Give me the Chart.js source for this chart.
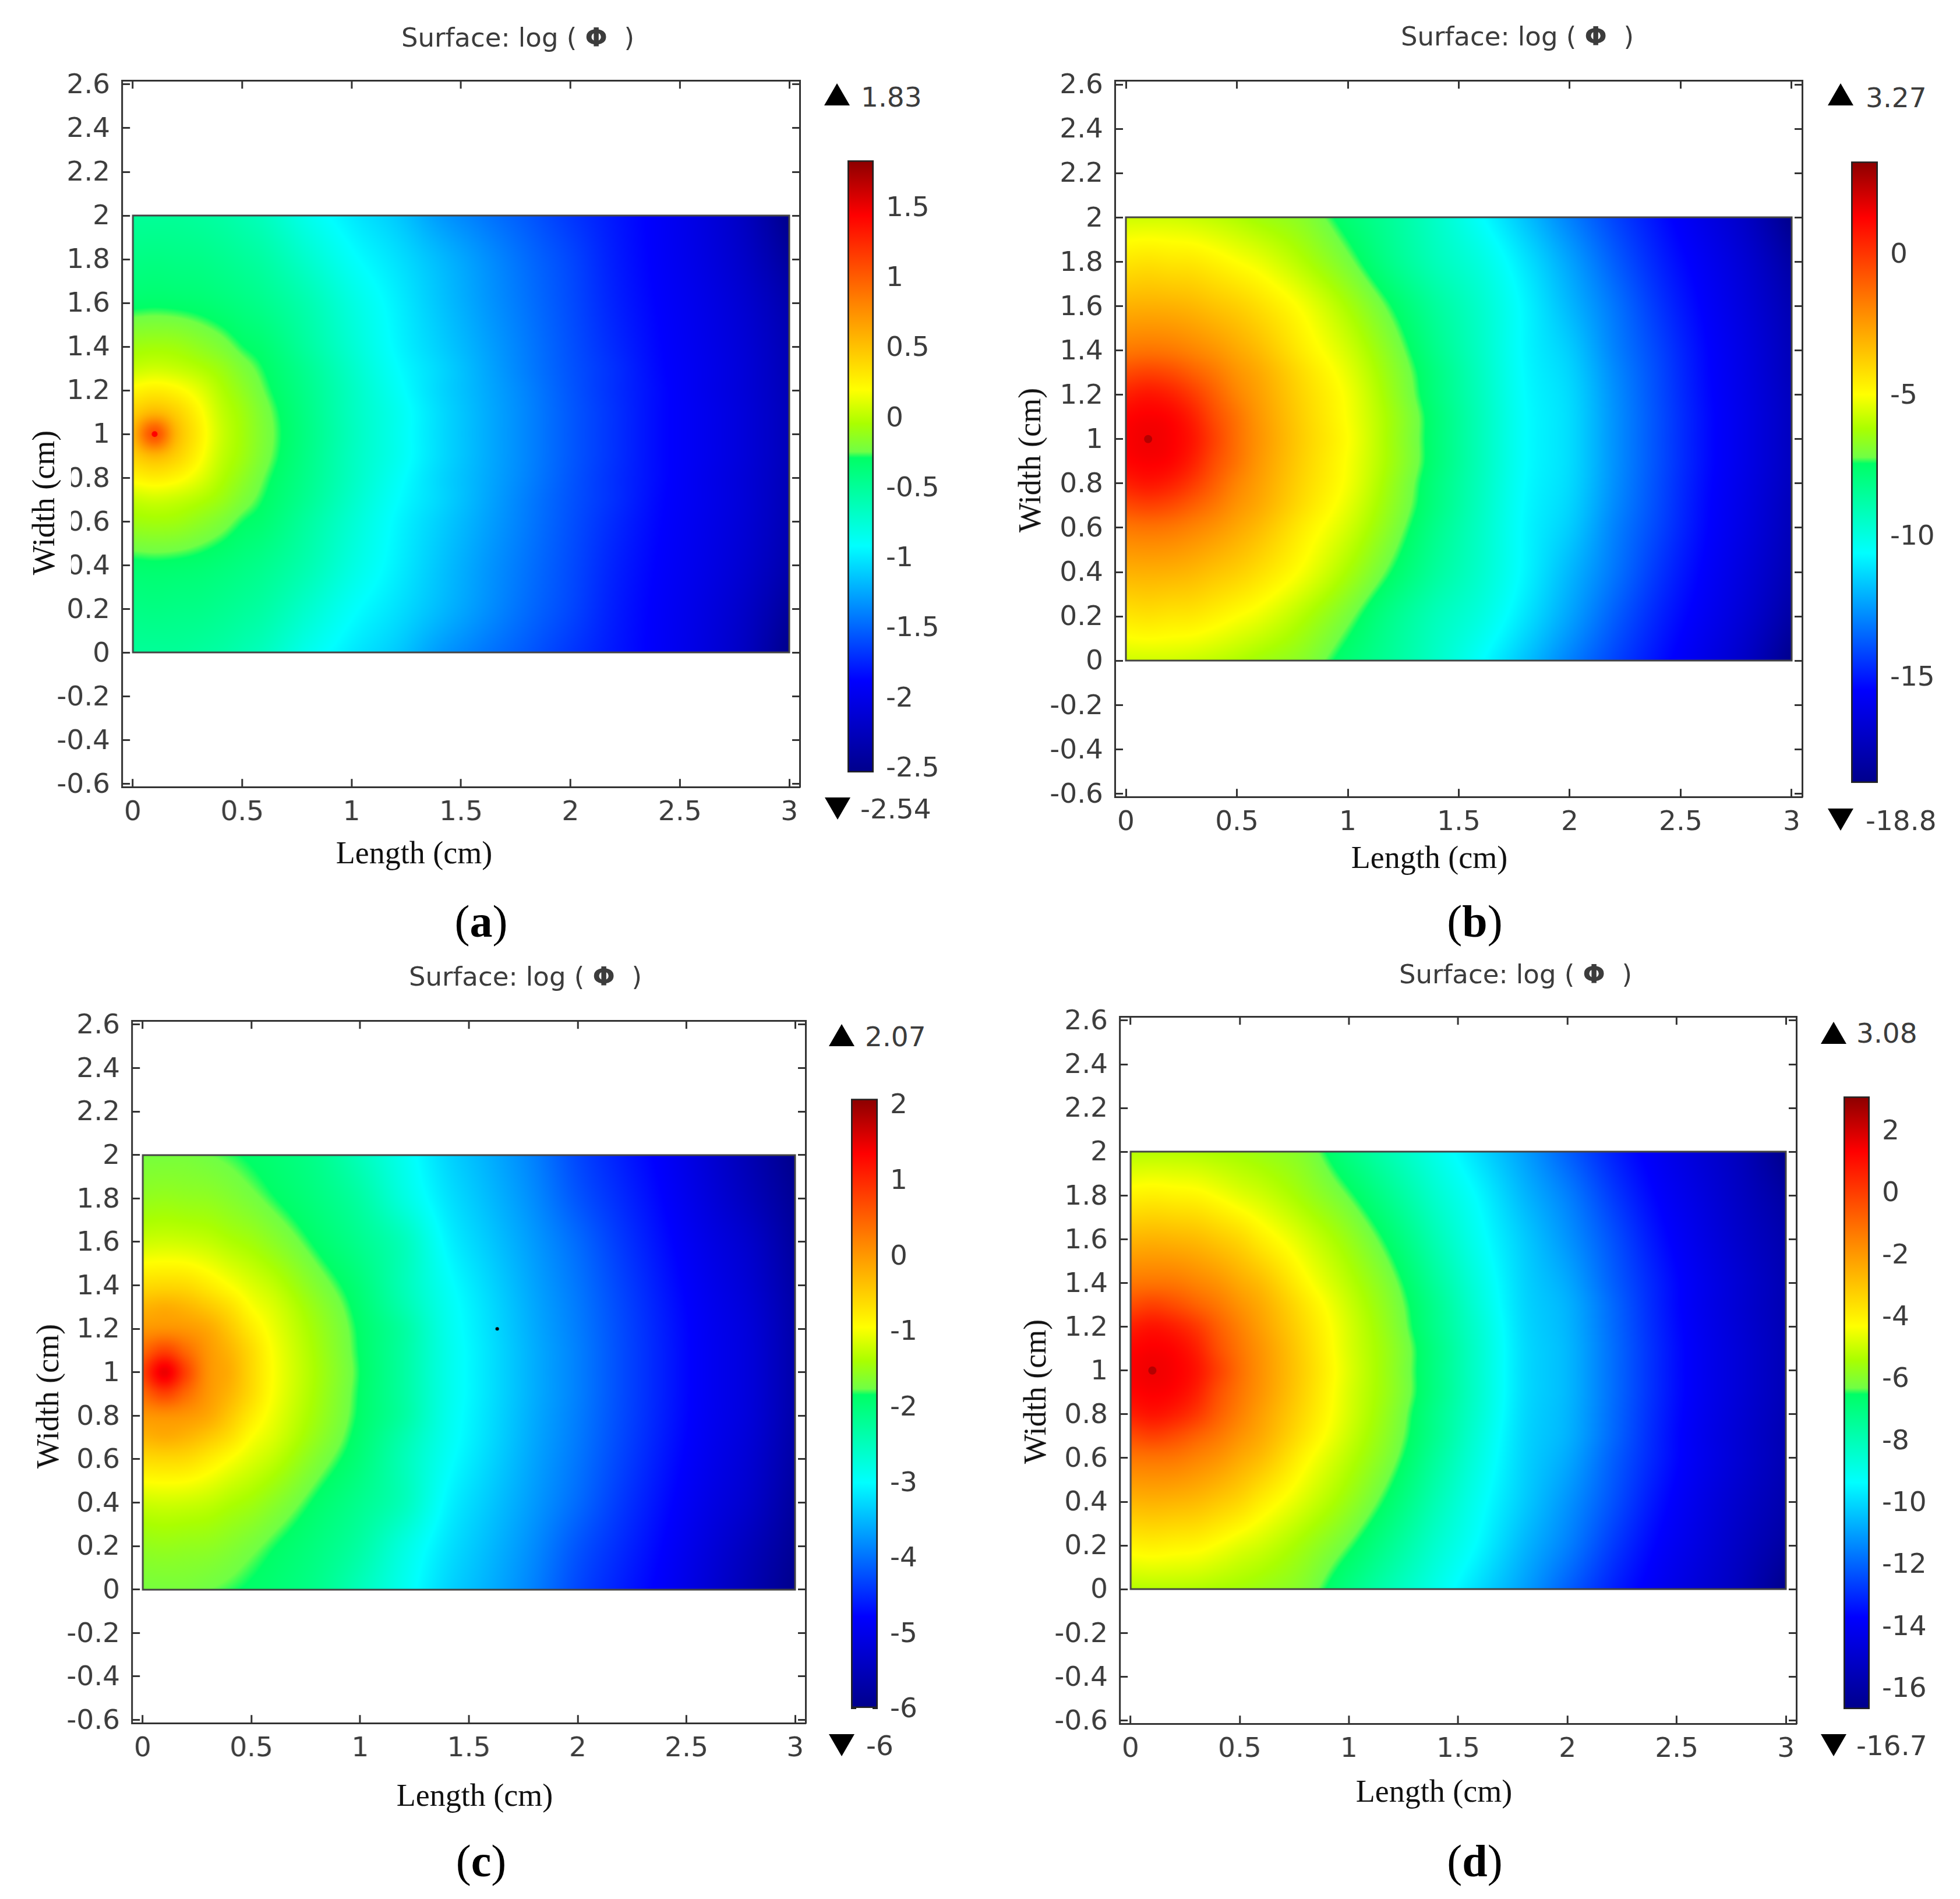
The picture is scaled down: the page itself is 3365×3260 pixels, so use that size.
<!DOCTYPE html>
<html>
<head>
<meta charset="utf-8">
<title>Surface log phi</title>
<script src="https://cdn.jsdelivr.net/npm/chart.js@4"></script>
<style>
  html, body { margin: 0; padding: 0; background: #fff; }
  #page { position: relative; width: 3365px; height: 3260px; overflow: hidden; background: #fff; }
  #page canvas { position: absolute; }
  .txt { position: absolute; white-space: pre; line-height: 1; }
  .sans { font: 45px "DejaVu Sans", sans-serif; color: #3c3c3c; }
  .range { font: 47px "DejaVu Sans", sans-serif; color: #3c3c3c; }
  .serif { font: 54px "Liberation Serif", serif; color: #111; }
  .caption { font: 78px "Liberation Serif", serif; color: #000; }
  .tri { position: absolute; width: 44px; height: 38px; background: #000; }
  .tri.up { clip-path: polygon(50% 0, 100% 100%, 0 100%); }
  .tri.down { clip-path: polygon(0 0, 100% 0, 50% 100%); }
  .mask { position: absolute; background: #fff; }
</style>
</head>
<body>
<div id="page"></div>
<script>
// grid nodes the values below were read at (cm)
var xNodes = [0, 0.1, 0.2, 0.3, 0.4, 0.5, 0.6, 0.8, 1, 1.2, 1.4, 1.6, 1.8, 2, 2.2, 2.4, 2.6, 2.8, 3];
var yNodesHalf = [0, 0.2, 0.4, 0.6, 0.7, 0.8, 0.9, 1];

// log(phi), rows y = 0 .. 1. The picture is symmetric about y = 1
var valuesA = [
  [-0.5, -0.5, -0.5, -0.52, -0.55, -0.6, -0.66, -0.85, -1, -1.12, -1.3, -1.43, -1.55, -1.68, -1.8, -1.92, -2.06, -2.24, -2.54],
  [-0.42, -0.41, -0.42, -0.43, -0.46, -0.5, -0.55, -0.72, -0.9, -1.03, -1.18, -1.33, -1.48, -1.62, -1.78, -1.91, -2.04, -2.2, -2.44],
  [-0.318, -0.31, -0.318, -0.334, -0.366, -0.406, -0.454, -0.6, -0.8, -0.97, -1.14, -1.3, -1.45, -1.6, -1.76, -1.89, -2.01, -2.15, -2.35],
  [-0.088, -0.075, -0.088, -0.14, -0.205, -0.286, -0.342, -0.53, -0.74, -0.94, -1.1, -1.26, -1.42, -1.58, -1.73, -1.87, -1.99, -2.12, -2.31],
  [0.03, 0.055, 0.03, -0.023, -0.1, -0.205, -0.294, -0.48, -0.7, -0.91, -1.07, -1.24, -1.41, -1.57, -1.71, -1.86, -1.98, -2.11, -2.3],
  [0.23, 0.28, 0.23, 0.12, -0.023, -0.14, -0.257, -0.45, -0.67, -0.88, -1.07, -1.23, -1.39, -1.56, -1.71, -1.85, -1.98, -2.11, -2.29],
  [0.42, 0.55, 0.42, 0.23, 0.03, -0.088, -0.218, -0.43, -0.66, -0.85, -1.05, -1.22, -1.38, -1.55, -1.7, -1.85, -1.97, -2.1, -2.28],
  [0.55, 1.05, 0.55, 0.28, 0.055, -0.075, -0.205, -0.42, -0.65, -0.85, -1.05, -1.22, -1.38, -1.55, -1.7, -1.85, -1.97, -2.1, -2.28]
];
var valuesB = [
  [-5.7, -5.7, -5.7, -5.8, -5.95, -6.15, -6.4, -6.85, -7.75, -8.55, -9.5, -10.6, -11.8, -13.05, -14.2, -15.2, -16.15, -17.2, -18.8],
  [-4.4, -4.3, -4.4, -4.45, -4.7, -5, -5.29, -6.13, -7.11, -8.23, -9.2, -10, -11.15, -12.4, -13.7, -14.85, -15.8, -16.8, -18.1],
  [-3.05, -3, -3.05, -3.2, -3.5, -3.8, -4.2, -5.15, -6.27, -7.46, -8.6, -9.6, -10.8, -12, -13.25, -14.5, -15.55, -16.55, -17.7],
  [-1.6, -1.5, -1.6, -1.9, -2.3, -2.8, -3.3, -4.57, -5.64, -6.9, -8.23, -9.45, -10.75, -11.6, -13, -14.2, -15.35, -16.35, -17.5],
  [-0.5, -0.3, -0.5, -1, -1.6, -2.3, -2.85, -4.2, -5.36, -6.69, -8.02, -9.35, -10.7, -11.45, -12.85, -14.1, -15.3, -16.3, -17.45],
  [0.55, 0.8, 0.55, -0.1, -1, -1.9, -2.6, -4, -5.15, -6.55, -7.95, -9.28, -10.65, -11.35, -12.75, -14.05, -15.25, -16.25, -17.35],
  [1.2, 1.35, 1.2, 0.55, -0.55, -1.5, -2.4, -3.87, -5.08, -6.41, -7.81, -9.21, -10.6, -11.3, -12.7, -14, -15.2, -16.2, -17.3],
  [1.35, 1.5, 1.35, 0.8, -0.3, -1.4, -2.3, -3.8, -5, -6.41, -7.81, -9.21, -10.6, -11.3, -12.7, -14, -15.2, -16.2, -17.3]
];
var valuesC = [
  [-1.73, -1.73, -1.73, -1.77, -1.82, -1.885, -1.953, -2.14, -2.5, -2.9, -3.3, -3.58, -3.9, -4.3, -4.59, -4.87, -5.23, -5.6, -6],
  [-1.55, -1.53, -1.55, -1.57, -1.64, -1.73, -1.834, -2.04, -2.32, -2.78, -3.2, -3.5, -3.82, -4.2, -4.5, -4.8, -5.15, -5.5, -5.9],
  [-1.22, -1.2, -1.22, -1.27, -1.37, -1.46, -1.596, -1.885, -2.157, -2.5, -3.07, -3.4, -3.72, -4.05, -4.4, -4.72, -5.05, -5.35, -5.82],
  [-0.63, -0.6, -0.63, -0.78, -0.96, -1.13, -1.28, -1.664, -2, -2.47, -2.95, -3.3, -3.65, -3.97, -4.32, -4.65, -4.97, -5.27, -5.74],
  [-0.28, -0.2, -0.28, -0.45, -0.67, -0.96, -1.14, -1.55, -1.936, -2.4, -2.9, -3.26, -3.62, -3.94, -4.29, -4.62, -4.94, -5.23, -5.71],
  [0, 0.05, 0, -0.15, -0.45, -0.78, -1.05, -1.48, -1.885, -2.3, -2.87, -3.24, -3.6, -3.92, -4.27, -4.6, -4.92, -5.2, -5.69],
  [0.4, 0.75, 0.4, 0, -0.28, -0.63, -0.98, -1.44, -1.868, -2.3, -2.85, -3.22, -3.58, -3.9, -4.26, -4.59, -4.91, -5.19, -5.68],
  [0.75, 1.45, 0.75, 0.05, -0.2, -0.6, -0.96, -1.42, -1.85, -2.3, -2.85, -3.22, -3.58, -3.9, -4.26, -4.59, -4.91, -5.19, -5.68]
];
var valuesD = [
  [-5.3, -5.3, -5.3, -5.35, -5.45, -5.55, -5.7, -6.1, -7.1, -8.05, -9, -10, -11, -12.1, -13.15, -14, -14.75, -15.5, -16.7],
  [-4.08, -4, -4.08, -4.15, -4.4, -4.7, -4.95, -5.62, -6.4, -7.4, -8.5, -9.5, -10.6, -11.55, -12.7, -13.7, -14.5, -15.3, -16.15],
  [-2.67, -2.6, -2.67, -2.8, -3.1, -3.45, -3.96, -4.85, -5.73, -6.75, -8, -9.2, -10.25, -11.2, -12.3, -13.4, -14.3, -15.1, -15.85],
  [-1.27, -1.2, -1.27, -1.55, -1.9, -2.4, -2.87, -4.19, -5.23, -6.23, -7.54, -8.88, -10.1, -10.85, -12.05, -13.15, -14.1, -14.9, -15.7],
  [-0.35, -0.1, -0.35, -0.8, -1.3, -1.9, -2.45, -3.8, -5, -6.06, -7.32, -8.74, -10.05, -10.7, -11.9, -13.1, -14.1, -14.9, -15.7],
  [0.65, 0.9, 0.65, 0.1, -0.75, -1.5, -2.2, -3.57, -4.85, -5.95, -7.25, -8.6, -10, -10.65, -11.85, -13.05, -14.05, -14.85, -15.65],
  [1.2, 1.35, 1.2, 0.65, -0.4, -1.25, -1.97, -3.42, -4.8, -5.84, -7.11, -8.53, -9.95, -10.6, -11.8, -13, -14, -14.8, -15.6],
  [1.35, 1.5, 1.35, 0.9, -0.1, -1.1, -1.9, -3.35, -4.74, -5.84, -7.11, -8.53, -9.95, -10.6, -11.8, -13, -14, -14.8, -15.6]
];

var rangeMax = [1.83, 3.27, 2.07, 3.08];
var rangeMin = [-2.54, -18.8, -6, -16.7];
var rangeMaxLabels = ['1.83', '3.27', '2.07', '3.08'];
var rangeMinLabels = ['-2.54', '-18.8', '-6', '-16.7'];

// small marks on the surface
var dotsA = [{ x: 0.1, y: 1 }];
var dotsB = [{ x: 0.1, y: 1 }];
var dotsC = [{ x: 1.63, y: 1.2 }];
var dotsD = [{ x: 0.1, y: 1 }];

var xTickValues = [0, 0.5, 1, 1.5, 2, 2.5, 3];
var yTickValues = [-0.6, -0.4, -0.2, 0, 0.2, 0.4, 0.6, 0.8, 1, 1.2, 1.4, 1.6, 1.8, 2, 2.2, 2.4, 2.6];
var barTicksA = [1.5, 1, 0.5, 0, -0.5, -1, -1.5, -2, -2.5];
var barTicksB = [0, -5, -10, -15];
var barTicksC = [2, 1, 0, -1, -2, -3, -4, -5, -6];
var barTicksD = [2, 0, -2, -4, -6, -8, -10, -12, -14, -16];

var panelLetters = ['a', 'b', 'c', 'd'];
var plotTitle = 'Surface: log ( ';
var lengthLabel = 'Length (cm)';
var widthLabel = 'Width (cm)';

// rainbow table of the colour bars: position from the top, then r, g, b
var colorStops = [
  [0, 139, 0, 0], [0.09, 255, 0, 0], [0.23, 255, 128, 0], [0.375, 255, 255, 0],
  [0.43, 170, 255, 0], [0.476, 112, 255, 69], [0.486, 0, 255, 102], [0.63, 0, 255, 255],
  [0.74, 0, 128, 255], [0.85, 0, 0, 255], [1, 0, 0, 139]
];

// placement of each panel on the page
var layouts = [
  { frame: [209, 138, 1373, 1351], bar: [1455, 275, 1500, 1326], title: [889, 64], len: [711, 1464], wid: [75, 863],
    cap: [826, 1582], up: [1415, 143], down: [1416, 1369], hiText: [1478, 166], loText: [1477, 1388] },
  { frame: [1914, 138, 3095, 1368], bar: [3178, 277, 3224, 1344], title: [2605, 62], len: [2454, 1472], wid: [1768, 790],
    cap: [2532, 1582], up: [3138, 143], down: [3138, 1388], hiText: [3203, 167], loText: [3203, 1408] },
  { frame: [226, 1752, 1383, 2958], bar: [1461, 1886, 1507, 2932], title: [902, 1676], len: [815, 3082], wid: [82, 2397],
    cap: [826, 3195], up: [1423, 1758], down: [1423, 2977], hiText: [1485, 1779], loText: [1487, 2996] },
  { frame: [1922, 1745, 3084, 2959], bar: [3165, 1882, 3210, 2934], title: [2602, 1672], len: [2462, 3075], wid: [1777, 2389],
    cap: [2532, 3195], up: [3126, 1754], down: [3126, 2977], hiText: [3187, 1773], loText: [3187, 2996] }
];

var axisLine = '#333';
var tickFont = { family: '"DejaVu Sans", sans-serif', size: 47 };
var tickColor = '#3c3c3c';
var page = document.getElementById('page');

function colorAt(t) {
  if (t <= 0) return colorStops[0].slice(1);
  for (var i = 1; i < colorStops.length; i++) {
    if (t <= colorStops[i][0]) {
      var a = colorStops[i - 1], b = colorStops[i];
      var f = (t - a[0]) / (b[0] - a[0]);
      return [a[1] + (b[1] - a[1]) * f, a[2] + (b[2] - a[2]) * f, a[3] + (b[3] - a[3]) * f];
    }
  }
  return colorStops[colorStops.length - 1].slice(1);
}

function slopeAt(nodes, vals, k) {
  var lo = Math.max(k - 1, 0), hi = Math.min(k + 1, nodes.length - 1);
  return (vals[hi] - vals[lo]) / (nodes[hi] - nodes[lo]);
}

// smooth reading between grid nodes, so the arcs stay round on screen
function hermite(nodes, vals, v) {
  var i = 0;
  while (i < nodes.length - 2 && v > nodes[i + 1]) i++;
  var h = nodes[i + 1] - nodes[i], s = (v - nodes[i]) / h;
  var s2 = s * s, s3 = s2 * s;
  return (2 * s3 - 3 * s2 + 1) * vals[i] + (s3 - 2 * s2 + s) * h * slopeAt(nodes, vals, i) +
         (-2 * s3 + 3 * s2) * vals[i + 1] + (s3 - s2) * h * slopeAt(nodes, vals, i + 1);
}

// paints the value grid inside the 0-3 / 0-2 rectangle, pixels go through the chart scales
var surfacePlugin = {
  id: 'surface',
  beforeDatasetsDraw: function (chart, args, opts) {
    if (!chart.$placed) return;
    var sx = chart.scales.x, sy = chart.scales.y;
    var x0 = Math.round(sx.getPixelForValue(0)), x1 = Math.round(sx.getPixelForValue(3));
    var y0 = Math.round(sy.getPixelForValue(2)), y1 = Math.round(sy.getPixelForValue(0));
    var w = x1 - x0, h = y1 - y0;
    var off = document.createElement('canvas');
    off.width = w; off.height = h;
    var offCtx = off.getContext('2d');
    var img = offCtx.createImageData(w, h);
    var span = opts.max - opts.min;
    for (var px = 0; px < w; px++) {
      var vx = sx.getValueForPixel(x0 + px + 0.5);
      var column = opts.rows.map(function (row) { return hermite(xNodes, row, vx); });
      for (var py = 0; py < h; py++) {
        var v = hermite(opts.yNodes, column, sy.getValueForPixel(y0 + py + 0.5));
        var c = colorAt((opts.max - v) / span);
        var k = (py * w + px) * 4;
        img.data[k] = c[0]; img.data[k + 1] = c[1]; img.data[k + 2] = c[2]; img.data[k + 3] = 255;
      }
    }
    offCtx.putImageData(img, 0, 0);
    var ctx = chart.ctx;
    ctx.save();
    ctx.drawImage(off, x0, y0);
    ctx.strokeStyle = '#444';
    ctx.lineWidth = 3;
    ctx.strokeRect(x0, y0, w, h);
    ctx.restore();
  }
};

// grows the canvas until the chart area has the wanted size, then slides it into place
function placeChart(chart, canvas, box) {
  for (var n = 0; n < 3; n++) {
    var a = chart.chartArea;
    chart.resize(chart.width + (box[2] - box[0]) - (a.right - a.left),
                 chart.height + (box[3] - box[1]) - (a.bottom - a.top));
  }
  canvas.style.left = (box[0] - chart.chartArea.left) + 'px';
  canvas.style.top = (box[1] - chart.chartArea.top) + 'px';
  chart.$placed = true;
  chart.draw();
}

function setTicks(values) {
  return function (scale) {
    scale.ticks = values.map(function (v) { return { value: v }; });
  };
}

function fixSize(prop, size) {
  return function (scale) { scale[prop] = size; };
}

function edgeAxis(axis, position, values, fit, min, max, extra) {
  var opts = {
    axis: axis, position: position, min: min, max: max,
    border: { display: true, color: axisLine, width: 3 },
    grid: { drawOnChartArea: false, drawTicks: true, tickLength: -14, tickColor: axisLine, tickWidth: 3 },
    ticks: { display: false, autoSkip: false, maxRotation: 0 },
    afterBuildTicks: setTicks(values),
    afterFit: fit
  };
  if (extra) opts.ticks = Object.assign({ font: tickFont, color: tickColor, display: true, autoSkip: false, maxRotation: 0,
    callback: function (v) { return String(v); } }, extra);
  return opts;
}

function makePlot(index, values, dots, dotColor, dotRadius) {
  var box = layouts[index].frame;
  var padLeft = 170, padBottom = 120, padEdge = 10;
  var canvas = document.createElement('canvas');
  canvas.width = box[2] - box[0] + padLeft + padEdge;
  canvas.height = box[3] - box[1] + padEdge + padBottom;
  page.appendChild(canvas);

  var yNodes = yNodesHalf.concat(yNodesHalf.slice(0, -1).reverse().map(function (y) { return 2 - y; }));
  var rows = values.concat(values.slice(0, -1).reverse());
  var heat = [];
  rows.forEach(function (row, j) {
    row.forEach(function (v, i) { heat.push({ x: xNodes[i], y: yNodes[j], v: v }); });
  });

  var chart = new Chart(canvas, {
    type: 'scatter',
    data: {
      datasets: [
        { label: 'log phi', data: heat, pointRadius: 0 },
        { label: 'marks', data: dots, pointRadius: dotRadius, pointBackgroundColor: dotColor, pointBorderWidth: 0 }
      ]
    },
    options: {
      responsive: false,
      maintainAspectRatio: false,
      animation: false,
      layout: { autoPadding: false, padding: { top: padEdge, right: padEdge, left: 0, bottom: 0 } },
      plugins: {
        legend: { display: false },
        tooltip: { enabled: false },
        surface: { rows: rows, yNodes: yNodes, max: rangeMax[index], min: rangeMin[index] }
      },
      scales: {
        x: edgeAxis('x', 'bottom', xTickValues, fixSize('height', padBottom), -0.05, 3.05, { padding: 30 }),
        y: edgeAxis('y', 'left', yTickValues, fixSize('width', padLeft), -0.615, 2.618, { padding: 34, labelOffset: 3 }),
        x2: edgeAxis('x', 'top', xTickValues, fixSize('height', 0), -0.05, 3.05),
        y2: edgeAxis('y', 'right', yTickValues, fixSize('width', 0), -0.615, 2.618)
      }
    },
    plugins: [surfacePlugin]
  });
  placeChart(chart, canvas, box);
}

function makeBar(index, barTicks) {
  var box = layouts[index].bar;
  var padRight = 170, padEdge = 30;
  var canvas = document.createElement('canvas');
  canvas.width = box[2] - box[0] + padRight + 4;
  canvas.height = box[3] - box[1] + padEdge * 2;
  page.appendChild(canvas);

  var hi = rangeMax[index], lo = rangeMin[index];
  var chart = new Chart(canvas, {
    type: 'bar',
    data: {
      labels: ['log phi'],
      datasets: [{
        data: [[lo, hi]],
        barPercentage: 1,
        categoryPercentage: 1,
        borderColor: '#222',
        borderWidth: 3,
        borderSkipped: false,
        backgroundColor: function (ctx) {
          var area = ctx.chart.chartArea;
          if (!area) return '#000';
          var g = ctx.chart.ctx.createLinearGradient(0, area.top, 0, area.bottom);
          colorStops.forEach(function (s) {
            g.addColorStop(s[0], 'rgb(' + s[1] + ',' + s[2] + ',' + s[3] + ')');
          });
          return g;
        }
      }]
    },
    options: {
      responsive: false,
      maintainAspectRatio: false,
      animation: false,
      layout: { autoPadding: false, padding: { top: padEdge, bottom: padEdge, left: 4, right: 0 } },
      plugins: { legend: { display: false }, tooltip: { enabled: false } },
      scales: {
        x: { display: false },
        y: {
          position: 'right', min: lo, max: hi,
          border: { display: false },
          grid: { drawOnChartArea: false, tickLength: -9, tickColor: '#222', tickWidth: 3 },
          ticks: { font: tickFont, color: tickColor, padding: 30, labelOffset: 4, autoSkip: false, maxRotation: 0,
            callback: function (v) { return String(v); } },
          afterBuildTicks: setTicks(barTicks),
          afterFit: fixSize('width', padRight)
        },
        y2: {
          axis: 'y', position: 'left', min: lo, max: hi,
          border: { display: false },
          grid: { drawOnChartArea: false, tickLength: -9, tickColor: '#222', tickWidth: 3 },
          ticks: { display: false },
          afterBuildTicks: setTicks(barTicks),
          afterFit: fixSize('width', 0)
        }
      }
    }
  });
  placeChart(chart, canvas, box);
}

function addText(html, cls, x, y, css) {
  var el = document.createElement('div');
  el.className = 'txt ' + cls;
  el.innerHTML = html;
  el.style.left = x + 'px';
  el.style.top = y + 'px';
  el.style.transform = css || 'translate(-50%, -50%)';
  page.appendChild(el);
  return el;
}

function addTriangle(kind, pos) {
  var el = document.createElement('div');
  el.className = 'tri ' + kind;
  el.style.left = pos[0] + 'px';
  el.style.top = pos[1] + 'px';
  page.appendChild(el);
}

function addLabels(index) {
  var p = layouts[index];
  addText(plotTitle + '<b>&Phi;</b>  )', 'sans', p.title[0], p.title[1]);
  addText(lengthLabel, 'serif', p.len[0], p.len[1]);
  addText(widthLabel, 'serif', p.wid[0], p.wid[1], 'translate(-50%, -50%) rotate(-90deg)');
  addText('(<b>' + panelLetters[index] + '</b>)', 'caption', p.cap[0], p.cap[1]);
  addTriangle('up', p.up);
  addTriangle('down', p.down);
  addText(rangeMaxLabels[index], 'range', p.hiText[0], p.hiText[1], 'translateY(-50%)');
  addText(rangeMinLabels[index], 'range', p.loText[0], p.loText[1], 'translateY(-50%)');
}

makePlot(0, valuesA, dotsA, '#ff0000', 5);
makePlot(1, valuesB, dotsB, 'rgba(120,0,0,0.5)', 7);
makePlot(2, valuesC, dotsC, '#000000', 3);
makePlot(3, valuesD, dotsD, 'rgba(120,0,0,0.5)', 7);

makeBar(0, barTicksA);
makeBar(1, barTicksB);
makeBar(2, barTicksC);
makeBar(3, barTicksD);

// the Width label of panel (a) cuts into the tick labels beside it
var mask = document.createElement('div');
mask.className = 'mask';
mask.style.cssText = 'left:100px;top:780px;width:22px;height:210px;';
page.appendChild(mask);

[0, 1, 2, 3].forEach(addLabels);
</script>
</body>
</html>
